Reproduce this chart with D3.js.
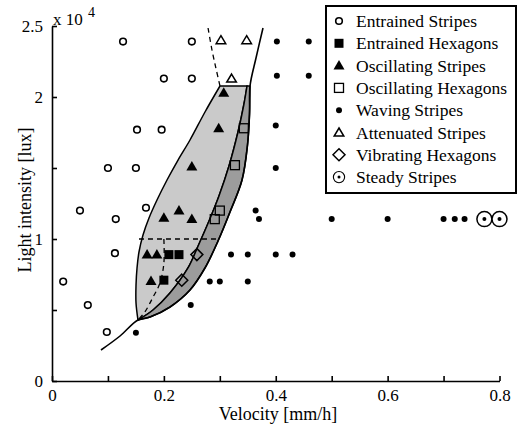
<!DOCTYPE html>
<meta charset="utf-8">
<style>
body { margin: 0; background: #fff; }
svg text { font-family: "Liberation Serif", "Tinos", "Times New Roman", Times, "DejaVu Serif", serif; fill: #000; }
</style>
<body>
<script src="https://d3js.org/d3.v7.min.js"></script>
<script>

// phase diagram data: [velocity mm/h, light intensity lux]
var entrainedStripes = [[0.127,23900],[0.25,23900],[0.2,21300],[0.25,21300],[0.152,17700],[0.196,17700],
  [0.1,15000],[0.15,15000],[0.05,12000],[0.168,12200],[0.114,11400],[0.1125,9000],[0.02,7000],
  [0.064,5350],[0.098,3450]];
var entrainedHexagons = [[0.209,8900],[0.227,8900],[0.2,7100]];
var oscillatingStripes = [[0.307,20300],[0.298,17800],[0.25,15100],[0.2,11500],[0.227,12000],
  [0.25,11400],[0.17,8900],[0.1875,8900],[0.177,7050]];
var oscillatingHexagons = [[0.343,17800],[0.327,15200],[0.3,12000],[0.291,11400]];
var wavingStripes = [[0.402,23900],[0.459,23900],[0.402,21500],[0.459,21500],[0.4,18000],[0.4,15000],
  [0.364,12000],[0.37,11400],[0.5,11400],[0.6,11400],[0.7,11400],[0.72,11400],[0.7375,11400],
  [0.32,8900],[0.35,8900],[0.4,8900],[0.43,8900],[0.282,7000],[0.3,7000],[0.35,7000],
  [0.248,5350],[0.15,3400]];
var attenuatedStripes = [[0.302,24000],[0.348,24000],[0.321,21300]];
var vibratingHexagons = [[0.259,8900],[0.232,7100]];
var steadyStripes = [[0.773,11400],[0.8,11400]];

// region boundaries, from the cusp upward
var leftBoundary = [[0.1537,4296],[0.1502,5493],[0.1502,6761],[0.1520,7958],[0.1555,9085],[0.1627,10282],
  [0.1734,11479],[0.1877,12746],[0.2056,14155],[0.2253,15563],[0.2467,16972],[0.2735,18944],[0.3003,20775]];
var innerBoundary = [[0.1537,4296],[0.1806,5000],[0.2109,6197],[0.2431,7958],[0.2628,9648],[0.2807,11268],
  [0.2985,13028],[0.3164,15141],[0.3325,17535],[0.3432,19507],[0.3486,20775]];
var outerBoundary = [[0.1537,4296],[0.1752,4507],[0.2109,5211],[0.2467,6408],[0.2735,7958],[0.2968,9859],
  [0.3182,11901],[0.3397,14155],[0.3495,16620],[0.3531,18800],[0.3540,20775]];
var lowerTail = [[0.0876,2183],[0.1216,3169],[0.1537,4296]];
var upperTail = [[0.3540,20775],[0.3647,22746],[0.3772,24859]];
var dashedTop = [[0.279,24860],[0.286,23310],[0.293,22040],[0.3003,20775]];
var dashedLevel = [[0.1555,10000],[0.297,10000]];
var dashedDrop = [[0.2,10000],[0.2,8300],[0.193,6900],[0.1805,5900],[0.166,4860],[0.1537,4296]];

var xTicks = [0,0.1,0.2,0.3,0.4,0.5,0.6,0.7,0.8];
var xLabels = ["0","","0.2","","0.4","","0.6","","0.8"];
var yTicks = [0,5000,10000,15000,20000,25000];
var yLabels = ["0","","1","","2","2.5"];

var legendNames = ["Entrained Stripes","Entrained Hexagons","Oscillating Stripes","Oscillating Hexagons",
  "Waving Stripes","Attenuated Stripes","Vibrating Hexagons","Steady Stripes"];

var width = 524, height = 426;
var serif = '"Liberation Serif", "Tinos", "Times New Roman", Times, "DejaVu Serif", serif';

var x = d3.scaleLinear().domain([0, 0.8]).range([52, 499.5]);
var y = d3.scaleLinear().domain([0, 25000]).range([381, 26]);

var svg = d3.select("body").append("svg")
    .attr("width", width)
    .attr("height", height)
    .attr("font-family", serif);

var line = d3.line()
    .x(function(d) { return x(d[0]); })
    .y(function(d) { return y(d[1]); })
    .curve(d3.curveCatmullRom);

function rev(a) { return a.slice().reverse(); }
function join(parts) {
  return parts.map(function(p, i) { var s = line(p); return i ? s.replace(/^M/, "L") : s; }).join("") + "Z";
}

// light region (oscillating stripes)
svg.append("path")
    .attr("d", join([leftBoundary, [[0.3003,20775],[0.3486,20775]], rev(innerBoundary)]))
    .style("fill", "#cacaca")
    .style("stroke", "#000")
    .style("stroke-width", 1.5);

// dark band (oscillating hexagons)
svg.append("path")
    .attr("d", join([innerBoundary, [[0.3486,20775],[0.3540,20775]], rev(outerBoundary)]))
    .style("fill", "#9c9c9c")
    .style("stroke", "#000")
    .style("stroke-width", 1.5);

// solid boundary curve
svg.append("path")
    .attr("d", line(lowerTail.concat(outerBoundary.slice(1), upperTail.slice(1))))
    .style("fill", "none")
    .style("stroke", "#000")
    .style("stroke-width", 1.6);

// dashed lines
[dashedTop, dashedLevel, dashedDrop].forEach(function(d) {
  svg.append("path")
      .attr("d", line(d))
      .style("fill", "none")
      .style("stroke", "#000")
      .style("stroke-width", 1.3)
      .style("stroke-dasharray", "5,4");
});

// axes
var xAxis = svg.append("g")
    .attr("transform", "translate(0," + y(0) + ")")
    .call(d3.axisBottom(x).tickValues(xTicks).tickSize(-5).tickSizeOuter(0).tickPadding(8)
      .tickFormat(function(d, i) { return xLabels[i]; }));
var yAxis = svg.append("g")
    .attr("transform", "translate(" + x(0) + ",0)")
    .call(d3.axisLeft(y).tickValues(yTicks).tickSize(-5).tickSizeOuter(0).tickPadding(9)
      .tickFormat(function(d, i) { return yLabels[i]; }));
[xAxis, yAxis].forEach(function(g) {
  g.attr("font-family", serif).attr("font-size", 17);
  g.selectAll("path, line").style("stroke", "#000").style("stroke-width", 1.6);
  g.selectAll("text").style("font-family", serif).style("font-size", "17px").style("fill", "#000");
});

svg.append("text").attr("x", 53).attr("y", 25).style("font-size", "17px").text("x 10");
svg.append("text").attr("x", 88).attr("y", 17).style("font-size", "14px").text("4");

svg.append("text")
    .attr("x", 278).attr("y", 420)
    .attr("text-anchor", "middle")
    .style("font-size", "18px")
    .text("Velocity [mm/h]");
svg.append("text")
    .attr("transform", "translate(31,200) rotate(-90)")
    .attr("text-anchor", "middle")
    .style("font-size", "18px")
    .text("Light intensity [lux]");

// markers
function drawMarker(g, kind) {
  if (kind === 0) g.append("circle").attr("r", 3.3).style("fill", "#fff").style("stroke", "#000").style("stroke-width", 1.6);
  if (kind === 1) g.append("rect").attr("x", -4.5).attr("y", -4.5).attr("width", 9).attr("height", 9).style("fill", "#000");
  if (kind === 2) g.append("path").attr("d", "M0,-5.5L5.5,4L-5.5,4Z").style("fill", "#000");
  if (kind === 3) g.append("rect").attr("x", -4.5).attr("y", -4.5).attr("width", 9).attr("height", 9).style("fill", "none").style("stroke", "#000").style("stroke-width", 1.3);
  if (kind === 4) g.append("circle").attr("r", 3).style("fill", "#000");
  if (kind === 5) g.append("path").attr("d", "M0,-4.5L4.8,3.5L-4.8,3.5Z").style("fill", "#fff").style("stroke", "#000").style("stroke-width", 1.5);
  if (kind === 6) g.append("path").attr("d", "M0,-6L6,0L0,6L-6,0Z").style("fill", "none").style("stroke", "#000").style("stroke-width", 1.5);
  if (kind === 7) {
    g.append("circle").attr("r", 7.5).style("fill", "#fff").style("stroke", "#000").style("stroke-width", 1.5);
    g.append("circle").attr("r", 2).style("fill", "#000");
  }
}

var series = [entrainedStripes, entrainedHexagons, oscillatingStripes, oscillatingHexagons,
  wavingStripes, attenuatedStripes, vibratingHexagons, steadyStripes];

series.forEach(function(data, k) {
  svg.selectAll(".m" + k)
      .data(data)
    .enter().append("g")
      .attr("class", "m" + k)
      .attr("transform", function(d) { return "translate(" + x(d[0]) + "," + y(d[1]) + ")"; })
      .each(function() { drawMarker(d3.select(this), k); });
});

// legend
var legend = svg.append("g");
legend.append("rect")
    .attr("x", 326).attr("y", 6).attr("width", 190).attr("height", 187)
    .style("fill", "#fff").style("stroke", "#000").style("stroke-width", 2);
legendNames.forEach(function(name, i) {
  var row = legend.append("g").attr("transform", "translate(339," + (21 + i * 22.3) + ")");
  var mk = row.append("g");
  if (i === 7) mk.attr("transform", "scale(0.75)");
  drawMarker(mk, i);
  row.append("text")
      .attr("x", 17).attr("dy", "0.35em")
      .style("font-size", "17.5px")
      .text(name);
});

</script>
</body>
